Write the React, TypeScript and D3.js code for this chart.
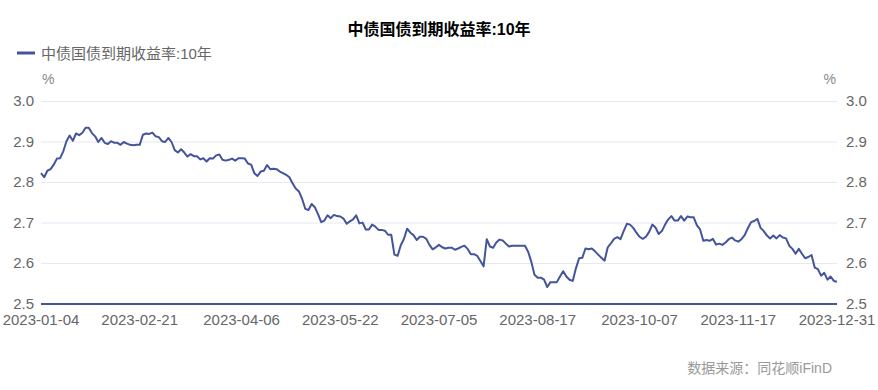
import React from "react";
import * as d3 from "d3";

const title = "中债国债到期收益率:10年";
const seriesName = "中债国债到期收益率:10年";
const unit = "%";
const source = "数据来源：同花顺iFinD";

const xTickLabels = [
  "2023-01-04", "2023-02-21", "2023-04-06", "2023-05-22", "2023-07-05",
  "2023-08-17", "2023-10-07", "2023-11-17", "2023-12-31",
];

const yTicks = [2.5, 2.6, 2.7, 2.8, 2.9, 3.0];

const yields = [
  2.823, 2.813, 2.829, 2.833, 2.844, 2.859, 2.860, 2.877, 2.902, 2.916,
  2.903, 2.921, 2.917, 2.923, 2.935, 2.935, 2.922, 2.914, 2.900, 2.910,
  2.898, 2.895, 2.902, 2.898, 2.898, 2.893, 2.900, 2.896, 2.893, 2.892,
  2.893, 2.893, 2.918, 2.921, 2.920, 2.923, 2.914, 2.912, 2.902, 2.900,
  2.910, 2.900, 2.880, 2.874, 2.882, 2.874, 2.864, 2.870, 2.865, 2.865,
  2.857, 2.860, 2.852, 2.860, 2.859, 2.867, 2.869, 2.856, 2.854, 2.856,
  2.859, 2.854, 2.860, 2.860, 2.859, 2.847, 2.844, 2.823, 2.816, 2.827,
  2.829, 2.843, 2.833, 2.834, 2.833, 2.827, 2.823, 2.819, 2.813, 2.798,
  2.785, 2.778, 2.760, 2.735, 2.732, 2.747, 2.739, 2.722, 2.702, 2.706,
  2.719, 2.712, 2.720, 2.717, 2.716, 2.711, 2.698, 2.704, 2.709, 2.719,
  2.699, 2.701, 2.684, 2.684, 2.696, 2.691, 2.683, 2.683, 2.681, 2.671,
  2.671, 2.622, 2.619, 2.645, 2.661, 2.686, 2.676, 2.670, 2.658, 2.666,
  2.666, 2.661, 2.646, 2.635, 2.640, 2.646, 2.640, 2.637, 2.639, 2.639,
  2.634, 2.637, 2.641, 2.644, 2.636, 2.623, 2.623, 2.619, 2.606, 2.593,
  2.660, 2.642, 2.639, 2.652, 2.659, 2.657, 2.649, 2.642, 2.644, 2.644,
  2.644, 2.644, 2.644, 2.629, 2.604, 2.572, 2.565, 2.565, 2.560, 2.542,
  2.554, 2.554, 2.554, 2.568, 2.581, 2.568, 2.560, 2.557, 2.588, 2.613,
  2.614, 2.637, 2.635, 2.637, 2.630, 2.622, 2.614, 2.607, 2.640, 2.650,
  2.661, 2.665, 2.660, 2.680, 2.698, 2.696, 2.688, 2.676, 2.666, 2.661,
  2.666, 2.678, 2.696, 2.689, 2.673, 2.680, 2.696, 2.709, 2.717, 2.706,
  2.706, 2.717, 2.706, 2.716, 2.714, 2.714, 2.694, 2.684, 2.656, 2.658,
  2.656, 2.661, 2.647, 2.649, 2.646, 2.652, 2.660, 2.664, 2.657, 2.654,
  2.660, 2.670, 2.687, 2.702, 2.705, 2.710, 2.688, 2.680, 2.669, 2.662,
  2.669, 2.662, 2.670, 2.664, 2.662, 2.644, 2.636, 2.624, 2.636, 2.624,
  2.613, 2.616, 2.621, 2.590, 2.586, 2.570, 2.577, 2.560, 2.568, 2.557,
  2.555,
];

const W = 878;
const H = 390;
const LINE = "#44549a";
const FONT = "'Liberation Sans', Arial, 'Noto Sans CJK SC', sans-serif";

export default function App() {
  const idx = yields.map((_, i) => i);
  const x = d3.scalePoint<number>().domain(idx).range([41, 837]);
  const y = d3.scaleLinear().domain([2.5, 3.0]).range([304, 101.5]);
  const n = yields.length - 1;
  const tickIdx = xTickLabels.map((_, i) => Math.round((i * n) / (xTickLabels.length - 1)));
  const line = d3
    .line<number>()
    .x((_, i) => x(i) as number)
    .y((d) => y(d))
    .curve(d3.curveLinear);

  return (
    <svg width={W} height={H} style={{ position: "absolute", left: 0, top: 0, fontFamily: FONT }}>
      <rect width={W} height={H} fill="#fff" />
      <text x={439} y={35} textAnchor="middle" fontSize={16} fontWeight="bold" fill="#000">
        {title}
      </text>
      <line x1={17} x2={35} y1={53} y2={53} stroke={LINE} strokeWidth={3} />
      <text x={41} y={59} fontSize={15} fill="#666">
        {seriesName}
      </text>
      <text x={42} y={84} fontSize={14} fill="#888">{unit}</text>
      <text x={836} y={84} fontSize={14} fill="#888" textAnchor="end">{unit}</text>
      {yTicks.map((t) => (
        <g key={t}>
          {t !== 2.5 && (
            <line x1={41} x2={837} y1={y(t)} y2={y(t)} stroke="#e6e8f2" strokeWidth={1} />
          )}
          <text x={34} y={y(t) + 4.5} fontSize={15} fill="#666" textAnchor="end">
            {t.toFixed(1)}
          </text>
          <text x={846} y={y(t) + 4.5} fontSize={15} fill="#666">
            {t.toFixed(1)}
          </text>
        </g>
      ))}
      <line x1={41} x2={837} y1={y(2.5)} y2={y(2.5)} stroke={LINE} strokeWidth={2} />
      <path d={line(yields) || ""} fill="none" stroke={LINE} strokeWidth={2} strokeLinejoin="round" />
      {xTickLabels.map((lab, i) => (
        <text key={lab} x={x(tickIdx[i]) as number} y={325} fontSize={15} fill="#666" textAnchor="middle">
          {lab}
        </text>
      ))}
      <text x={832} y={373} fontSize={14} fill="#999" textAnchor="end">
        {source}
      </text>
    </svg>
  );
}
